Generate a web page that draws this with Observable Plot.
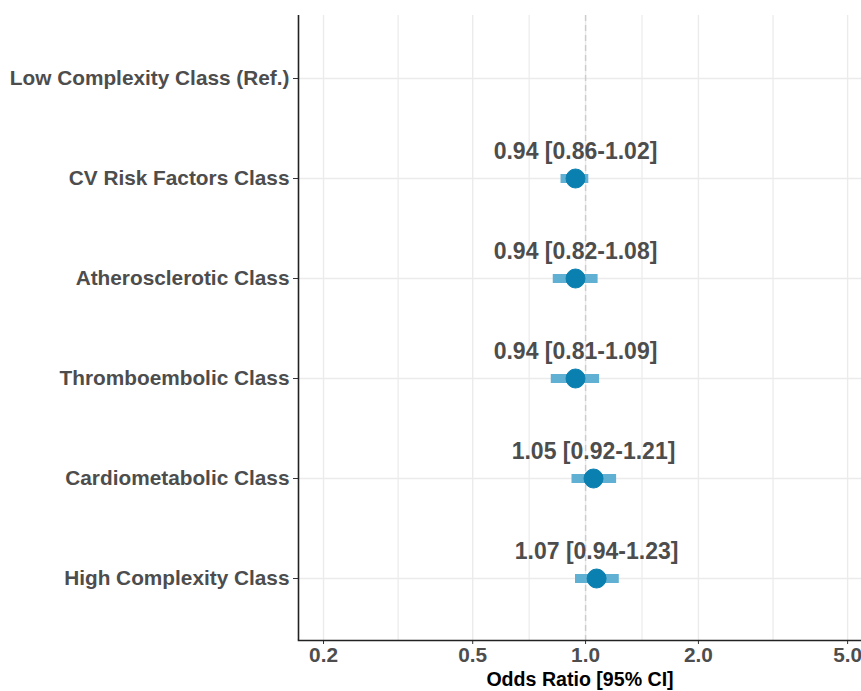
<!DOCTYPE html>
<html>
<head>
<meta charset="utf-8">
<script src="https://cdn.jsdelivr.net/npm/d3@7"></script>
<script src="https://cdn.jsdelivr.net/npm/@observablehq/plot@0.6"></script>
<style>
  body { margin: 0; background: #fff; }
  #chart svg { font-family: "Liberation Sans", Arial, sans-serif; }
</style>
</head>
<body>
<div id="chart"></div>
<script>
const categories = [
  "Low Complexity Class (Ref.)",
  "CV Risk Factors Class",
  "Atherosclerotic Class",
  "Thromboembolic Class",
  "Cardiometabolic Class",
  "High Complexity Class"
];
const estimates = [null, 0.94, 0.94, 0.94, 1.05, 1.07];
const lower     = [null, 0.86, 0.82, 0.81, 0.92, 0.94];
const upper     = [null, 1.02, 1.08, 1.09, 1.21, 1.23];
const xTicks = [0.2, 0.5, 1.0, 2.0, 5.0];
const xMinor = [Math.sqrt(0.1), Math.sqrt(0.5), Math.sqrt(2), Math.sqrt(10)];

const rows = categories.map((c, i) => ({
  cat: c, est: estimates[i], lo: lower[i], hi: upper[i],
  label: estimates[i] == null ? null :
    `${estimates[i].toFixed(2)} [${lower[i].toFixed(2)}-${upper[i].toFixed(2)}]`
})).filter(d => d.est != null);

const grid = "#ebebeb";
const chart = Plot.plot({
  width: 861,
  height: 691,
  marginLeft: 298,
  marginRight: 0,
  marginTop: 15,
  marginBottom: 51,
  style: {background: "#fff", fontFamily: "Liberation Sans, Arial, sans-serif"},
  x: {type: "log", domain: [0.1715, 5.445]},
  y: {type: "point", domain: categories, padding: 0.6},
  marks: [
    Plot.ruleX(xMinor, {stroke: grid, strokeWidth: 1.2}),
    Plot.ruleX(xTicks, {stroke: grid, strokeWidth: 1.4}),
    Plot.ruleY(categories, {y: d => d, stroke: grid, strokeWidth: 1.4}),
    Plot.ruleX([1], {stroke: "#cccccc", strokeWidth: 1.4, strokeDasharray: "6,4"}),
    Plot.ruleY(rows, {y: "cat", x1: "lo", x2: "hi", stroke: "#5fb0d2", strokeWidth: 9}),
    Plot.dot(rows, {y: "cat", x: "est", r: 9.5, fill: "#0a80b0", stroke: "#0a80b0", strokeWidth: 1}),
    Plot.text(rows, {y: "cat", x: "est", text: "label", dy: -27, fill: "#4d4d4d",
      fontSize: 23, fontWeight: "bold"}),
    Plot.axisY({tickSize: 5, tickPadding: 4, fontSize: 20.8, fontWeight: "bold",
      fill: "#4d4d4d", stroke: "#333", label: null}),
    Plot.axisX({ticks: xTicks, tickFormat: d => d.toFixed(1), tickSize: 4, tickPadding: 3,
      fontSize: 20.8, fontWeight: "bold", fill: "#4d4d4d", stroke: "#333", label: null}),
    Plot.ruleX([0.1715], {stroke: "#222", strokeWidth: 1.6}),
    Plot.frame({anchor: "bottom", stroke: "#222", strokeWidth: 1.6}),
    Plot.text(["Odds Ratio [95% CI]"], {frameAnchor: "bottom", dy: 45, fontSize: 19.6,
      fontWeight: "bold", fill: "#000"})
  ]
});
document.getElementById("chart").appendChild(chart);
</script>
</body>
</html>
